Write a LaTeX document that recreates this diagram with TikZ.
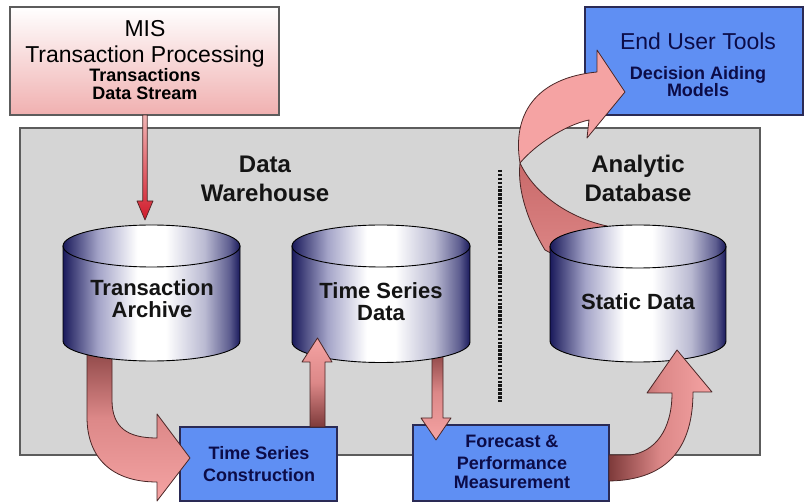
\documentclass[tikz,border=0pt]{standalone}
\usepackage{fontspec}
\setmainfont{Liberation Sans}
\usetikzlibrary{calc}

\definecolor{navyc}{HTML}{1A1A5C}
\definecolor{cylA}{HTML}{44447C}
\definecolor{cylB}{HTML}{A4A4C8}
\definecolor{cylC}{HTML}{BABAD2}
\definecolor{cylD}{HTML}{5E5E90}
\definecolor{boxblue}{HTML}{5F8FF3}
\definecolor{boxedge}{HTML}{2A2A55}
\definecolor{boxtext}{HTML}{0C0C48}
\definecolor{graybg}{HTML}{D5D5D5}
\definecolor{grayedge}{HTML}{5C5C5C}
\definecolor{misbot}{HTML}{F0B0B0}
\definecolor{arD}{HTML}{7E3A3A}
\definecolor{arM}{HTML}{DC8888}
\definecolor{arL}{HTML}{F5A3A3}
\definecolor{arEdge}{HTML}{4A2626}
\definecolor{darkpart}{HTML}{C96A6A}
\definecolor{darkpartB}{HTML}{DC8585}
\definecolor{thinTop}{HTML}{F2B5B5}
\definecolor{thinBot}{HTML}{D01A2A}
\definecolor{dotc}{HTML}{151515}

\pgfdeclarehorizontalshading{cylshade}{100bp}{color(0bp)=(navyc); color(25bp)=(navyc); color(28bp)=(cylA); color(35bp)=(cylB); color(46bp)=(white); color(54bp)=(white); color(65bp)=(cylC); color(72bp)=(cylD); color(75bp)=(navyc); color(100bp)=(navyc)}

\tikzset{
  lbl/.style={anchor=base, inner sep=0pt, outer sep=0pt},
  bigr/.style={lbl, font=\fontsize{23}{26}\selectfont},
  bigb/.style={lbl, font=\fontsize{22}{24}\selectfont\bfseries, text=black!92},
  titletext/.style={lbl, font=\fontsize{24}{28}\selectfont\bfseries, text=black!92},
  smallb/.style={lbl, font=\fontsize{18}{20}\selectfont\bfseries},
  bluebox/.style={draw=boxedge, fill=boxblue, line width=1.3pt, inner sep=0pt, outer sep=0pt},
  fatarrow/.style={draw=arEdge, line width=0.8pt, line join=round},
  cylpart/.style={shading=cylshade, draw=black, line width=0.9pt},
}

\begin{document}
\begin{tikzpicture}[x=1pt, y=-1pt]
\useasboundingbox (0,0) rectangle (804,502);

% gray panel
\node[draw=grayedge, fill=graybg, line width=1.1pt, minimum width=740pt, minimum height=327pt, inner sep=0pt, outer sep=0pt] (panel) at (390,291.5) {};

% dotted separator
\coordinate (sepTop) at (500,170);
\coordinate (sepBot) at (500,403);
\draw[dotc, line width=4pt, dash pattern=on 2.4pt off 1.5pt] (sepTop) -- (sepBot);

% blue boxes
\node[bluebox, minimum width=157pt, minimum height=74pt] (tsc) at (258.5,464) {};
\node[bluebox, minimum width=196pt, minimum height=76pt] (fpm) at (511,463) {};
\node[bluebox, minimum width=218pt, minimum height=108pt] (eut) at (694,61) {};

% arrow: Transaction Archive -> Time Series Construction
\shade[fatarrow, top color=arD, bottom color=arL, middle color=arM]
  (87,335) -- (87,417) .. controls (87,458) and (112,482) .. (157,482)
  -- (157,501) -- (190,458) -- (157,414) -- (157,438)
  .. controls (128,438) and (112,428) .. (112,400) -- (112,335) -- cycle;

% arrow: Time Series Data -> Forecast
\shade[fatarrow, top color=arD, bottom color=arL, middle color=arM]
  (432,345) -- (432,418) -- (421,418) -- (436,440) -- (451,418) -- (443,418) -- (443,345) -- cycle;

% back (dark) part of the twisted arrow from Static Data
\shade[fatarrow, top color=darkpart, bottom color=darkpartB]
  (520,163) .. controls (517,190) and (528,222) .. (545,250)
  -- (560,258) -- (600,240) -- (607,226)
  .. controls (570,218) and (535,195) .. (520,163) -- cycle;

% cylinders
\shade[cylpart] (63,246) -- (63,341) arc[start angle=180, end angle=0, x radius=88.5, y radius=20] -- (240,246) -- cycle;
\shade[cylpart] (151.5,246) ellipse[x radius=88.5, y radius=21];
\coordinate (ta) at (151.5,290);

\shade[cylpart] (292,246) -- (292,342) arc[start angle=180, end angle=0, x radius=89, y radius=20.5] -- (470,246) -- cycle;
\shade[cylpart] (381,246) ellipse[x radius=89, y radius=21];
\coordinate (tsd) at (381,290);

\shade[cylpart] (550,246.5) -- (550,341) arc[start angle=180, end angle=0, x radius=88, y radius=21] -- (726,246.5) -- cycle;
\shade[cylpart] (638,246.5) ellipse[x radius=88, y radius=21.5];
\coordinate (sd) at (638,290);

% arrow: Time Series Construction -> Time Series Data
\shade[fatarrow, top color=arL, bottom color=arD, middle color=arM]
  (310,427) -- (310,362) -- (302,362) -- (317.5,338) -- (332,362) -- (325,362) -- (325,427) -- cycle;

% arrow: Forecast -> Static Data
\shade[fatarrow, left color=arD, right color=arL, middle color=arM]
  (609,455) -- (630,455) .. controls (655,452) and (672,430) .. (672,393)
  -- (647,393) -- (677,350) -- (712,392) -- (693,392)
  .. controls (693,445) and (670,480) .. (609,481) -- cycle;

% front (light) part of the twisted arrow to End User Tools
\fill[arL, draw=arEdge, line width=0.8pt, line join=round]
  (520,163) .. controls (512,115) and (535,78) .. (597,72)
  -- (597,50) -- (625,92) -- (587,138) -- (589,120)
  .. controls (565,125) and (535,145) .. (520,163) -- cycle;

% MIS box
\node[draw=grayedge, top color=white, bottom color=misbot, line width=1.1pt, minimum width=269pt, minimum height=108pt, inner sep=0pt, outer sep=0pt] (mis) at (144.5,61) {};

% thin arrow MIS -> Transaction Archive
\shade[top color=thinTop, bottom color=thinBot, draw=arEdge, line width=0.7pt, line join=round]
  (142.8,115) -- (142.8,201) -- (137,201) -- (145,220) -- (153,201) -- (147.2,201) -- (147.2,115) -- cycle;

% texts
\node[bigr] (mist1) at (145,37) {MIS};
\node[bigr] (mist2) at (145,63) {Transaction Processing};
\node[smallb] (mist3) at (145,82) {Transactions};
\node[smallb] (mist4) at (145,100) {Data Stream};

\node[bigr, text=boxtext] (eutt1) at (698,50) {End User Tools};
\node[smallb, text=boxtext] (eutt2) at (698,80) {Decision Aiding};
\node[smallb, text=boxtext] (eutt3) at (698,97) {Models};

\node[titletext] (dw1) at (265,173) {Data};
\node[titletext] (dw2) at (265,202) {Warehouse};
\node[titletext] (ad1) at (638,173) {Analytic};
\node[titletext] (ad2) at (638,202) {Database};

\node[bigb] (tat1) at (152,296) {Transaction};
\node[bigb] (tat2) at (152,318) {Archive};
\node[bigb] (tsdt1) at (381,299) {Time Series};
\node[bigb] (tsdt2) at (381,321) {Data};
\node[bigb] (sdt) at (638,310) {Static Data};

\node[smallb, text=boxtext] (tsct1) at (259,460) {Time Series};
\node[smallb, text=boxtext] (tsct2) at (259,482) {Construction};
\node[smallb, text=boxtext] (fpmt1) at (512,448) {Forecast \&};
\node[smallb, text=boxtext] (fpmt2) at (512,470) {Performance};
\node[smallb, text=boxtext] (fpmt3) at (512,489) {Measurement};
\end{tikzpicture}
\end{document}
